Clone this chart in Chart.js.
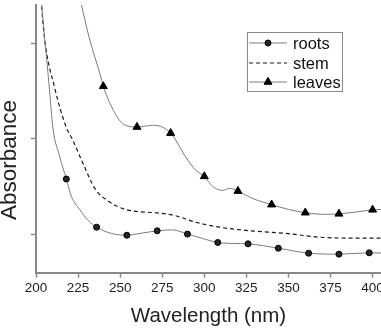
<!DOCTYPE html>
<html>
<head>
<meta charset="utf-8">
<script src="https://cdn.jsdelivr.net/npm/chart.js@4"></script>
<style>
  body { margin: 0; background: #fff; }
  canvas { display: block; }
</style>
</head>
<body>
<canvas id="grafica" width="381" height="332"></canvas>
<script>
/* Datos */
const xTicks = [200, 225, 250, 275, 300, 325, 350, 375, 400];
const yTicks = [0.5, 1.0, 1.5]; // marcas sin etiqueta

// raíces (línea continua con círculos)
const rootsWl  = [202, 205, 208, 210, 214, 218, 221, 226, 231, 236, 245, 254, 263, 272, 281, 290, 299, 308, 317, 326, 344, 362, 380, 398, 405];
const rootsAbs = [1.84, 1.54, 1.26, 1.06, 0.91, 0.79, 0.70, 0.63, 0.573, 0.538, 0.505, 0.496, 0.507, 0.519, 0.524, 0.502, 0.479, 0.458, 0.453, 0.451, 0.428, 0.402, 0.397, 0.404, 0.403];
const rootsMarks = [218, 236, 254, 272, 290, 308, 326, 344, 362, 380, 398];

// tallo (línea discontinua)
const stemWl  = [202, 205, 211, 218, 221.5, 228, 235, 244, 252, 260, 270, 282, 295, 309, 325, 350, 368, 388, 405];
const stemAbs = [1.84, 1.53, 1.27, 1.06, 1.00, 0.87, 0.74, 0.669, 0.634, 0.62, 0.614, 0.60, 0.564, 0.538, 0.521, 0.504, 0.486, 0.481, 0.481];

// hojas (línea continua con triángulos)
const leavesWl  = [225, 227, 232, 238, 240, 246, 252, 260, 270, 280, 289, 295, 300, 305, 311, 315, 320, 329, 340, 350, 360, 372, 380, 390, 400, 405];
const leavesAbs = [1.78, 1.70, 1.516, 1.34, 1.275, 1.149, 1.076, 1.062, 1.071, 1.030, 0.905, 0.835, 0.804, 0.751, 0.730, 0.741, 0.727, 0.687, 0.656, 0.631, 0.614, 0.605, 0.608, 0.617, 0.629, 0.631];
const leavesMarks = [240, 260, 280, 300, 320, 340, 360, 380, 400];

const fuente = "'Liberation Sans', Arial, sans-serif";
const gris = '#7c7c7c';

function puntos(wl, abs) {
    return wl.map((x, i) => ({x: x, y: abs[i]}));
}

function radioMarca(wl, marcas, r) {
    return ctx => marcas.includes(wl[ctx.dataIndex]) ? r : 0;
}

// Título del eje Y (en la figura está más abajo del centro)
const tituloY = {
    id: 'tituloY',
    afterDraw(chart) {
        const c = chart.ctx;
        c.save();
        c.translate(16, 160);
        c.rotate(-Math.PI / 2);
        c.fillStyle = '#222';
        c.font = '22.5px ' + fuente;
        c.textAlign = 'center';
        c.textBaseline = 'alphabetic';
        c.fillText('Absorbance', 0, 0);
        c.restore();
    }
};

// Leyenda dibujada dentro del área del gráfico
const leyenda = {
    id: 'leyenda',
    afterDraw(chart) {
        const c = chart.ctx;
        const ds = chart.data.datasets;
        c.save();
        c.strokeStyle = '#8a8a8a';
        c.lineWidth = 1;
        c.strokeRect(247.5, 32.5, 95, 59);
        const filas = [43, 63, 82];
        ds.forEach((d, i) => {
            let y = filas[i];
            c.beginPath();
            c.strokeStyle = d.borderColor;
            c.lineWidth = d.borderWidth;
            c.setLineDash(d.borderDash || []);
            c.moveTo(249, y);
            c.lineTo(287, y);
            c.stroke();
            c.setLineDash([]);
            if (d.leyendaPunto) {
                c.fillStyle = d.pointBackgroundColor;
                c.strokeStyle = '#000';
                Chart.helpers.drawPoint(c, {
                    pointStyle: d.pointStyle,
                    radius: d.leyendaPunto,
                    borderWidth: 1
                }, 268, y);
            }
            c.fillStyle = '#111';
            c.font = '16.5px ' + fuente;
            c.textBaseline = 'middle';
            c.fillText(d.label, 293, y + 1);
        });
        c.restore();
    }
};

const ctx = document.getElementById('grafica').getContext('2d');
const grafica = new Chart(ctx, {
    type: 'line',
    data: {
        datasets: [{
            label: 'roots',
            data: puntos(rootsWl, rootsAbs),
            borderColor: gris,
            borderWidth: 1,
            pointStyle: 'circle',
            pointRadius: radioMarca(rootsWl, rootsMarks, 3),
            pointBackgroundColor: '#262626',
            pointBorderColor: '#000',
            pointBorderWidth: 1,
            cubicInterpolationMode: 'monotone',
            leyendaPunto: 3
        }, {
            label: 'stem',
            data: puntos(stemWl, stemAbs),
            borderColor: '#1a1a1a',
            borderWidth: 1.2,
            borderDash: [4, 3],
            pointRadius: 0,
            cubicInterpolationMode: 'monotone'
        }, {
            label: 'leaves',
            data: puntos(leavesWl, leavesAbs),
            borderColor: gris,
            borderWidth: 1,
            pointStyle: 'triangle',
            pointRadius: radioMarca(leavesWl, leavesMarks, 4.6),
            pointBackgroundColor: '#000',
            pointBorderColor: '#000',
            pointBorderWidth: 1,
            cubicInterpolationMode: 'monotone',
            leyendaPunto: 4.6
        }]
    },
    options: {
        responsive: false,
        animation: false,
        events: [],
        layout: { padding: { top: 5, right: 0, left: 31, bottom: 0 } },
        plugins: {
            legend: { display: false },
            tooltip: { enabled: false }
        },
        scales: {
            x: {
                type: 'linear',
                min: 200,
                max: 405,
                afterBuildTicks: s => { s.ticks = xTicks.map(v => ({value: v})); },
                afterFit: s => { s.paddingRight = 0; },
                ticks: {
                    font: { size: 13.5, family: fuente },
                    color: '#222',
                    padding: 2.5,
                    maxRotation: 0,
                    autoSkip: false
                },
                grid: {
                    drawOnChartArea: false,
                    drawTicks: true,
                    tickLength: 5,
                    tickColor: '#888',
                    tickWidth: 1.5
                },
                border: { color: '#888', width: 2 },
                title: {
                    display: true,
                    text: 'Wavelength (nm)',
                    color: '#222',
                    font: { size: 20.5, family: fuente },
                    padding: { top: 5, bottom: 3.5 }
                }
            },
            y: {
                min: 0.3,
                max: 1.7,
                afterBuildTicks: s => { s.ticks = yTicks.map(v => ({value: v})); },
                ticks: { display: false },
                grid: {
                    drawOnChartArea: false,
                    drawTicks: true,
                    tickLength: 5,
                    tickColor: '#888',
                    tickWidth: 1.5
                },
                border: { color: '#888', width: 2 },
                title: { display: false }
            }
        }
    },
    plugins: [leyenda, tituloY]
});
</script>
</body>
</html>
